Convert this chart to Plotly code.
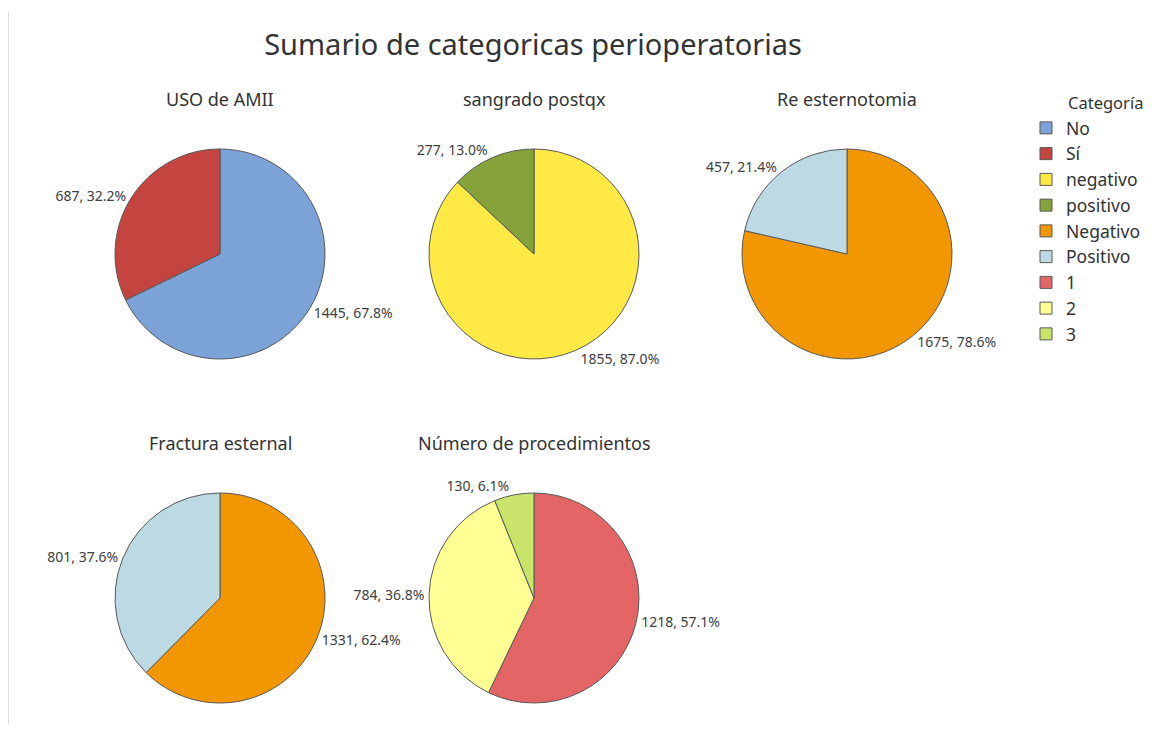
import plotly.graph_objects as go

# datos de las categorias perioperatorias
titulos = ["USO de AMII", "sangrado postqx", "Re esternotomia",
           "Fractura esternal", "Número de procedimientos"]

uso_labels = ["No", "Sí"]
uso_vals = [1445, 687]

sangrado_labels = ["negativo", "positivo"]
sangrado_vals = [1855, 277]

reester_labels = ["Negativo", "Positivo"]
reester_vals = [1675, 457]

fractura_labels = ["Negativo", "Positivo"]
fractura_vals = [1331, 801]

proc_labels = ["1", "2", "3"]
proc_vals = [1218, 784, 130]

colores = {
    "No": "#7BA3D7", "Sí": "#C4443F",
    "negativo": "#FFE945", "positivo": "#86A23A",
    "Negativo": "#F39700", "Positivo": "#BDDAE4",
    "1": "#E46566", "2": "#FFFF93", "3": "#C8E46B",
}

W, H = 1156, 730
OFF = 8  # margen del body en la pagina
font = "Noto Sans"

def px(x):
    return (x - OFF) / W

def py(y):
    return 1 - (y - OFF) / H

def dom(x0, y0, x1, y1):
    # caja en pixeles de pantalla -> dominio en papel
    return dict(x=[px(x0), px(x1)], y=[py(y1), py(y0)])

cajas = [(115, 149, 325, 359), (429, 149, 639, 359), (742, 149, 952, 359),
         (115, 493, 325, 703), (429, 493, 639, 703)]

series = [(uso_labels, uso_vals), (sangrado_labels, sangrado_vals),
          (reester_labels, reester_vals), (fractura_labels, fractura_vals),
          (proc_labels, proc_vals)]

fig = go.Figure()
for (labs, vals), caja in zip(series, cajas):
    fig.add_trace(go.Pie(
        labels=labs, values=vals, sort=False, direction="clockwise", rotation=0,
        domain=dom(*caja),
        marker=dict(colors=[colores[l] for l in labs], line=dict(color="#595959", width=1)),
        textposition="outside",
        texttemplate="%{value:d}, %{percent:.1%}",
        textfont=dict(family=font, size=14, color="#404040"),
        hoverinfo="label+value+percent",
    ))

anots = []
for t, caja in zip(titulos, cajas):
    cx = (caja[0] + caja[2]) / 2
    anots.append(dict(text=t, x=px(cx), y=py(caja[1] - 50), xref="paper", yref="paper",
                      xanchor="center", yanchor="middle", showarrow=False,
                      font=dict(family=font, size=18, color="#333333")))

# titulo de la leyenda alineado con el texto de los items
anots.append(dict(text="Categoría", x=px(1066), y=py(103), xref="paper", yref="paper",
                  xanchor="left", yanchor="middle", showarrow=False,
                  font=dict(family=font, size=16.5, color="#333333")))

fig.update_layout(
    width=W, height=H,
    margin=dict(l=0, r=0, t=0, b=0),
    paper_bgcolor="white",
    title=dict(text="Sumario de categoricas perioperatorias", x=px(533), xanchor="center",
               y=py(45), yanchor="middle",
               font=dict(family=font, size=29, color="#333333")),
    annotations=anots,
    legend=dict(font=dict(family=font, size=17.5, color="#333333"),
                x=px(1026), y=py(110), xanchor="left", yanchor="top",
                traceorder="normal", itemwidth=30),
    shapes=[dict(type="line", xref="paper", yref="paper", x0=px(8.5), x1=px(8.5),
                 y0=py(725), y1=py(12), line=dict(color="#DDDDDD", width=1))],
)

fig.write_html("out.html")
